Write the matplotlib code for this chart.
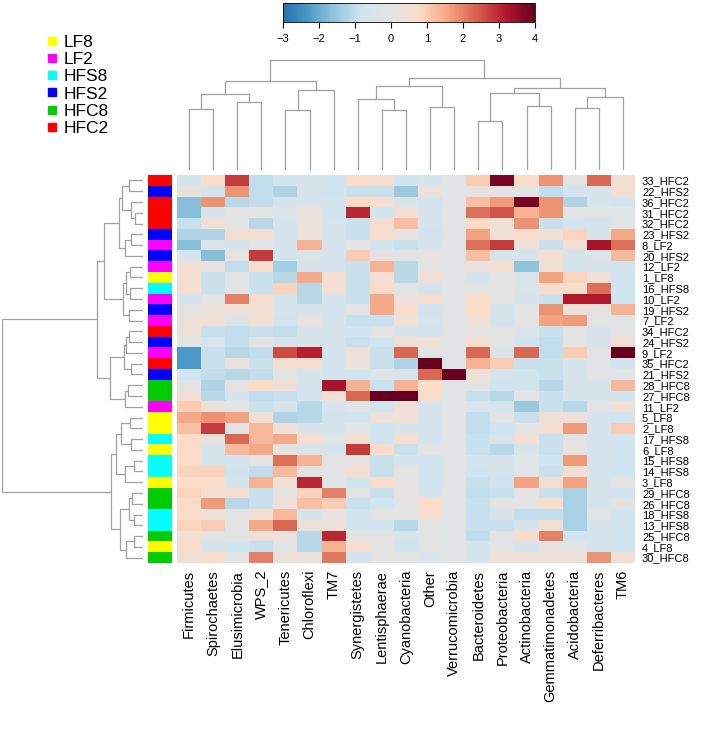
import numpy as np
import matplotlib
matplotlib.use('Agg')
import matplotlib.pyplot as plt
from matplotlib.colors import LinearSegmentedColormap, Normalize
from matplotlib.cm import ScalarMappable
from matplotlib.lines import Line2D

plt.rcParams['font.family'] = ['Liberation Sans', 'DejaVu Sans']

# Column (phylum) and row (sample) labels in display order
phyla = ['Firmicutes', 'Spirochaetes', 'Elusimicrobia', 'WPS_2', 'Tenericutes',
         'Chloroflexi', 'TM7', 'Synergistetes', 'Lentisphaerae', 'Cyanobacteria',
         'Other', 'Verrucomicrobia', 'Bacteroidetes', 'Proteobacteria',
         'Actinobacteria', 'Gemmatimonadetes', 'Acidobacteria', 'Deferribacteres', 'TM6']

samples = ['33_HFC2', '22_HFS2', '36_HFC2', '31_HFC2', '32_HFC2', '23_HFS2', '8_LF2',
           '20_HFS2', '12_LF2', '1_LF8', '16_HFS8', '10_LF2', '19_HFS2', '7_LF2',
           '34_HFC2', '24_HFS2', '9_LF2', '35_HFC2', '21_HFS2', '28_HFC8', '27_HFC8',
           '11_LF2', '5_LF8', '2_LF8', '17_HFS8', '6_LF8', '15_HFS8', '14_HFS8',
           '3_LF8', '29_HFC8', '26_HFC8', '18_HFS8', '13_HFS8', '25_HFC8', '4_LF8',
           '30_HFC8']

groups = ['LF8', 'LF2', 'HFS8', 'HFS2', 'HFC8', 'HFC2']
group_colors = ['#FFFF00', '#FF00FF', '#00FFFF', '#0000FF', '#00CD00', '#FF0000']

# scaled abundance (row = sample, column = phylum)
z_scores = [
    [-0.8, 0.7, 2.8, -1.0, -0.8, -0.5, -0.8, 0.8, 0.6, -0.8, -0.5, -0.1, 1.0, 3.8, 0.8, 1.8, 0.0, 2.3, 0.5],
    [0.2, -0.6, 1.8, -1.0, -1.2, -0.5, -0.8, -0.9, -0.9, -1.5, 0.2, -0.1, 0.1, 0.0, 0.0, -1.0, -0.6, -0.5, 0.5],
    [-1.7, 1.8, -1.1, -1.0, -0.6, -0.5, -0.6, 0.8, 0.6, -0.5, -0.7, -0.1, 1.2, 1.7, 3.8, 1.8, -1.2, -0.5, -0.7],
    [-1.7, -0.5, 0.0, -0.1, -0.4, 0.2, -0.8, 3.0, -0.8, 0.5, -0.5, -0.1, 2.2, 2.5, 1.4, 1.8, 0.0, -0.1, -0.1],
    [-0.9, 0.4, 0.0, -1.1, -0.6, 0.2, -0.6, -0.9, 0.6, 1.2, -0.5, -0.1, 0.8, 0.4, 1.8, -0.9, -0.8, -0.6, -0.1],
    [-1.2, -1.2, 0.5, 0.5, -0.6, 0.2, -0.6, -0.9, 0.6, 0.1, -0.7, -0.1, 1.6, 0.4, 0.7, 0.4, 0.9, -0.5, 1.5],
    [-1.7, -0.3, -0.6, -0.1, -0.6, 1.4, -0.6, 0.0, -0.8, -0.9, -0.6, -0.1, 2.2, 2.8, 0.3, -0.9, 0.4, 3.3, 2.2],
    [-0.6, -1.7, 0.1, 2.8, -0.6, -0.4, -0.6, 1.0, 0.1, 0.0, 0.1, -0.1, 1.2, -0.5, -0.6, 0.5, -0.5, -0.4, 1.3],
    [0.5, 0.2, -1.0, 0.6, -1.4, -0.5, -0.6, -0.9, 1.4, -1.1, 0.0, -0.1, 0.2, 0.5, -1.6, 0.4, -0.6, -0.5, -0.8],
    [0.5, -0.9, -0.1, -0.9, -1.1, 1.5, 0.5, -0.9, 0.5, -1.1, 0.4, -0.1, -0.6, 0.0, -0.3, 1.6, 0.9, 0.4, -0.8],
    [0.5, -0.9, -0.1, -0.9, 0.9, -1.1, 0.5, -0.9, 0.8, -0.1, -0.6, -0.1, 0.0, 0.0, -0.4, 0.6, 0.7, 2.2, -0.8],
    [-0.6, 0.0, 2.0, 0.6, -0.6, -1.1, -0.6, -0.9, 1.5, 0.2, 0.6, -0.1, 0.7, 0.0, -0.6, -0.9, 3.2, 3.2, -0.8],
    [0.0, 0.3, 0.4, 0.4, -0.6, -0.5, -0.6, 0.0, 1.5, 0.7, -0.7, -0.1, 0.7, -0.5, 0.0, 1.8, 0.3, 0.1, 1.4],
    [0.3, 0.4, -0.3, 0.5, -0.7, 0.1, -0.6, -0.9, -0.9, 0.4, -0.6, -0.1, 0.4, -0.5, 0.0, 1.6, 1.7, 0.0, -0.1],
    [0.3, -0.9, -1.0, -0.9, -1.0, -0.5, -0.6, -0.8, 0.0, -0.5, -0.7, -0.1, 0.0, 0.0, -0.4, -0.9, 0.0, -0.5, 0.0],
    [0.0, -0.6, -1.0, 0.0, -0.5, -0.5, -0.6, -0.9, -0.8, 0.4, 0.3, -0.1, 0.6, -0.1, -0.8, -1.0, 0.0, -0.5, 0.5],
    [-2.3, -0.9, -1.1, -1.0, 2.6, 3.1, -0.6, 0.3, -0.9, 2.3, 0.0, -0.1, 2.3, -0.4, 2.3, -1.0, 1.0, -0.1, 4.0],
    [-2.3, -0.9, 0.2, -0.9, 0.5, 0.5, -0.6, 0.2, -0.9, -1.2, 4.0, -0.1, 1.4, 1.0, -0.9, -0.9, -0.6, -0.1, -0.7],
    [-0.8, -1.0, -1.1, -1.0, -0.1, -0.5, -0.7, -0.8, -0.2, -0.5, 2.3, 4.0, 0.3, -0.5, -0.8, -0.9, -0.6, -0.1, -0.1],
    [-0.1, -1.2, 0.1, 0.8, 0.4, -0.5, 3.3, 1.4, -0.9, 1.4, 0.8, -0.1, 0.0, -0.8, -0.8, -1.1, -0.5, -0.5, 1.3],
    [0.5, -1.1, -0.6, -1.0, -0.9, -0.6, 0.4, 2.3, 4.0, 4.0, 0.7, -0.1, -0.9, -1.1, 0.0, -0.9, -0.6, -0.5, -0.7],
    [1.0, 0.3, 0.0, -0.9, -0.7, -1.1, -0.6, -0.1, -0.7, 0.3, -0.5, -0.1, -0.6, -0.6, -1.5, -0.9, -1.1, -0.1, 0.4],
    [1.5, 1.8, 1.6, 0.4, -1.2, -1.1, -0.7, -0.8, 0.3, 0.3, -0.6, -0.1, -1.0, -0.1, -0.9, 0.4, 0.3, -0.6, -0.8],
    [1.2, 2.8, 0.0, 1.3, 0.4, -0.5, -0.5, -0.1, -0.8, -0.5, -0.6, -0.1, -1.0, -0.8, 0.0, 0.5, 1.7, -0.6, 1.0],
    [0.8, 0.2, 2.3, 1.3, 1.5, 0.6, -0.1, 0.5, -0.8, 0.5, -0.6, -0.1, -0.9, -0.5, 0.5, -0.9, 0.0, -0.6, -0.8],
    [0.8, -0.5, 1.3, 1.5, 0.1, -0.5, -0.6, 2.8, 0.7, -0.9, 0.0, -0.1, -0.9, -1.1, -0.5, -0.9, 0.1, -0.6, -0.8],
    [0.8, -0.5, -0.6, 0.0, 2.2, 1.4, 0.0, 0.1, -0.9, -0.6, -0.8, -0.1, -0.6, -0.5, -0.1, -0.8, 1.7, -0.6, -0.8],
    [0.9, 0.9, -0.8, -1.0, 1.3, 0.0, 0.0, 0.5, -0.9, 0.0, -0.8, -0.1, -0.8, -0.6, -0.1, -0.9, 0.4, -0.6, -0.8],
    [0.8, 0.7, -0.6, 1.4, 0.4, 3.0, -0.1, -0.8, 0.6, 0.1, -0.8, -0.1, -0.9, -0.8, 1.6, 0.5, 1.6, -0.6, 0.0],
    [0.9, 0.5, 0.5, -0.9, 0.0, 0.9, 2.0, 0.0, -0.9, 0.1, -0.5, -0.1, -1.0, -0.9, 0.0, -0.9, -1.3, -0.5, -0.8],
    [0.8, 1.7, -1.1, -0.9, 0.3, 1.2, 1.0, -0.9, -0.8, 0.0, 0.8, -0.1, -0.9, 0.0, 0.0, 0.6, -1.3, -0.5, 0.0],
    [0.8, 0.3, 0.0, 0.5, 1.3, -0.5, 0.1, -0.8, 0.0, 0.0, 0.5, -0.1, -0.9, -0.5, -1.0, -1.0, -1.3, -0.1, -0.8],
    [0.9, 1.0, 0.0, 1.5, 2.3, 0.3, 0.3, -0.8, -0.8, -1.1, 0.0, -0.1, -0.9, -0.9, -0.5, 0.5, -1.3, -0.5, -0.8],
    [0.5, 0.0, 0.0, 0.4, 0.2, -1.1, 3.0, 0.0, 0.0, -0.5, 0.0, -0.1, -1.0, 0.0, 0.7, 2.0, -0.8, -0.6, -0.8],
    [0.7, -0.5, -0.8, -0.9, 0.0, -1.1, 1.4, 0.5, 0.0, -0.8, 0.0, -0.1, -0.6, -0.1, -0.5, 0.1, 0.0, -0.5, -0.8],
    [0.4, 0.7, 0.0, 2.0, 0.3, 0.2, 2.1, -0.7, 0.0, 0.0, -0.4, -0.1, -0.6, 0.3, 0.3, 0.3, 0.3, 1.8, 0.4],
]

# dendrograms as (left, right, merge height); leaves are display positions
row_tree = (
    (
        (
            (((0, 1, 14), (2, (3, 4, 8), 12), 21), (((5, 6, 12), 7, 18)), 24),
            ((((8, 9, 13), (10, 11, 13), 17)), (12, 13, 14), 20),
            39),
        (
            ((((14, 15, 14), 16, 17)), (17, 18, 12), 19),
            (((19, 20, 15), 21, 18)),
            33),
        46),
    (
        ((((22, 23, 13), (24, 25, 12), 22)), (((26, 27, 9), 28, 18)), 27),
        ((((29, 30, 11), (31, 32, 9), 14)), (((33, 34, 9), 35, 17)), 23),
        32),
    140)

col_tree = (
    (((0, 1, 185), (2, 3, 208), 230), ((4, 5, 182), 6, 245), 270),
    (
        ((7, (8, 9, 182), 217), (10, 11, 193), 257),
        (((12, 13, 150), (14, 15, 195), 233), ((16, 17, 190), 18, 223), 250),
        279),
    335)


def tree_segments(node, segs):
    if isinstance(node, int):
        return float(node), 0.0
    left, right, h = node
    xl, hl = tree_segments(left, segs)
    xr, hr = tree_segments(right, segs)
    segs.append(([xl, xl, xr, xr], [hl, h, h, hr]))
    return (xl + xr) / 2, h


W, H = 709, 742
fig = plt.figure(figsize=(W / 100, H / 100), dpi=100)


def px_axes(x0, y0, x1, y1):
    return fig.add_axes([x0 / W, 1 - y1 / H, (x1 - x0) / W, (y1 - y0) / H])


colors11 = ['#053061', '#2166AC', '#4393C3', '#92C5DE', '#D1E5F0', '#E4E4E4',
            '#FDDBC7', '#F4A582', '#D6604D', '#B2182B', '#67001F']
cmap = LinearSegmentedColormap.from_list('rdbu_grey', colors11, N=256)
norm = Normalize(vmin=-4, vmax=4)

n_rows, n_cols = len(samples), len(phyla)
data = np.array(z_scores)

HM_L, HM_R, HM_T, HM_B = 177, 635, 175, 563

# heatmap
ax = px_axes(HM_L, HM_T, HM_R, HM_B)
ax.imshow(data, cmap=cmap, norm=norm, aspect='auto', interpolation='nearest')
ax.set_xticks(range(n_cols))
ax.set_xticklabels(phyla, rotation=90, fontsize=10.5)
ax.set_yticks(range(n_rows))
ax.set_yticklabels(samples, fontsize=8)
ax.yaxis.tick_right()
ax.tick_params(length=0, pad=5)
for s in ax.spines.values():
    s.set_visible(False)

# group annotation column
ann = px_axes(148, HM_T, 172, HM_B)
rgb = np.array([[matplotlib.colors.to_rgb(group_colors[groups.index(s.split('_')[1])])]
                for s in samples])
ann.imshow(rgb, aspect='auto', interpolation='nearest')
ann.axis('off')

# row dendrogram
rax = px_axes(2, HM_T, 143, HM_B)
segs = []
tree_segments(row_tree, segs)
for xs, hs in segs:
    rax.plot(hs, xs, color='#A0A0A0', lw=0.9, solid_capstyle='butt')
rax.set_xlim(140, 0)
rax.set_ylim(n_rows - 0.5, -0.5)
rax.axis('off')

# column dendrogram
cax_d = px_axes(HM_L, 60, HM_R, 170)
segs = []
tree_segments(col_tree, segs)
for xs, hs in segs:
    cax_d.plot(xs, hs, color='#A0A0A0', lw=0.9, solid_capstyle='butt')
cax_d.set_xlim(-0.5, n_cols - 0.5)
cax_d.set_ylim(0, 335)
cax_d.axis('off')

# colour key
cbax = px_axes(283, 3, 535, 22)
cb = fig.colorbar(ScalarMappable(norm=norm, cmap=cmap), cax=cbax, orientation='horizontal',
                  boundaries=np.linspace(-3, 4, 200), ticks=range(-3, 5))
cb.ax.tick_params(labelsize=8, length=4, width=0.8, pad=5)
cb.outline.set_linewidth(0.6)

# group legend
handles = [Line2D([], [], marker='s', linestyle='none', markersize=5.5,
                  markerfacecolor=c, markeredgecolor=c) for c in group_colors]
fig.legend(handles, groups, loc='upper left', bbox_to_anchor=(36 / W, 1 - 26 / H),
           frameon=False, fontsize=12.5, handletextpad=0.3, labelspacing=0.12,
           handlelength=0.8, borderpad=0)

fig.savefig('out.png', dpi=100)
